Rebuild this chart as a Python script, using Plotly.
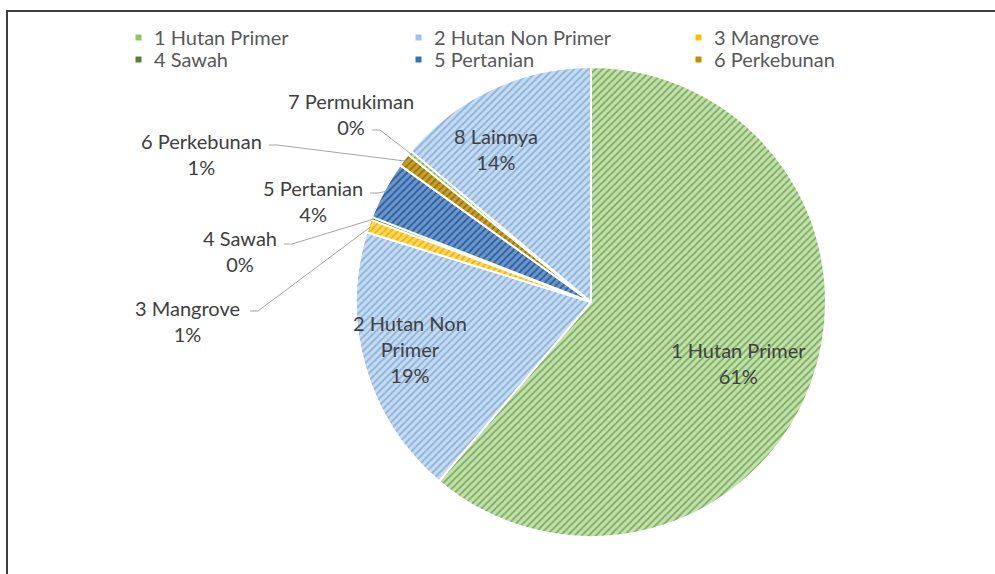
import math
import plotly.graph_objects as go

# Land-cover shares (percent)
categories = ["1 Hutan Primer", "2 Hutan Non Primer", "3 Mangrove", "4 Sawah",
              "5 Pertanian", "6 Perkebunan", "7 Permukiman", "8 Lainnya"]
shares = [61.2, 18.6, 0.9, 0.2, 4.0, 0.9, 0.3, 13.9]

# Legend lists only the first six classes
legend_items = categories[:6]

# Slice styling
bg_colors = ["#c5e0b4", "#c6dcf1", "#ffd966", "#6f9f4c", "#6a97cc", "#c9a227", "#b9da9e", "#c6dcf1"]
fg_colors = ["#7fb35a", "#8fb4de", "#f2b400", "#446f2b", "#2f5f9e", "#9a7410", "#7fb35a", "#8fb4de"]
legend_colors = ["#8cc66b", "#9dc3e6", "#ffc000", "#548235", "#2e75b6", "#bf9000"]

W, H = 995, 574
CX, CY, R = 591, 302, 235          # pie centre / radius in pixels

# Label placement (pixel centres of the two-line labels) and label-side leader anchors
inside_pos = {0: (738, 363), 1: (410, 349), 7: (496, 149)}
outside_pos = {2: (187, 321), 3: (240, 251), 4: (313, 201), 5: (201, 154), 6: (351, 114)}
leader_start = {2: (250, 311), 3: (284, 244), 4: (370, 193), 5: (269, 145), 6: (372, 130)}

# Legend grid: three columns, two rows
LEG_X0, LEG_DX = 138.5, 280
LEG_Y0, LEG_DY = 37.5, 22
LEG_TEXT_GAP = 13
LEG_SWATCH = 6

TEXT = "#404040"
LEG_TEXT = "#595959"
FONT = "Lato"
FSIZE = 20


def px(x):
    return x / W


def py(y):
    return 1 - y / H


def edge_point(frac, k=1.0):
    a = 2 * math.pi * frac
    return CX + k * R * math.sin(a), CY - k * R * math.cos(a)


total = sum(shares)
cum = []
acc = 0.0
for v in shares:
    cum.append((acc + v / 2) / total)
    acc += v

fig = go.Figure()

fig.add_trace(go.Pie(
    labels=categories,
    values=shares,
    sort=False,
    direction="clockwise",
    rotation=0,
    textinfo="none",
    hoverinfo="label+percent",
    showlegend=False,
    marker=dict(
        colors=bg_colors,
        line=dict(color="white", width=2),
        pattern=dict(shape="/", bgcolor=bg_colors, fgcolor=fg_colors,
                     size=5, solidity=0.4, fillmode="replace"),
    ),
    domain=dict(x=[px(CX - R), px(CX + R)], y=[py(CY + R), py(CY - R)]),
))


def pct(v):
    return f"{int(v / total * 100 + 0.5)}%"


annotations = []
shapes = []

for i, (x, y) in inside_pos.items():
    name = categories[i]
    if i == 1:
        name = "2 Hutan Non<br>Primer"
    annotations.append(dict(
        x=px(x), y=py(y), xref="paper", yref="paper", showarrow=False,
        xanchor="center", yanchor="middle",
        text=f"{name}<br>{pct(shares[i])}", align="center",
        font=dict(family=FONT, size=FSIZE, color=TEXT),
    ))

for i, (x, y) in outside_pos.items():
    annotations.append(dict(
        x=px(x), y=py(y), xref="paper", yref="paper", showarrow=False,
        xanchor="center", yanchor="middle",
        text=f"{categories[i]}<br>{pct(shares[i])}", align="center",
        font=dict(family=FONT, size=FSIZE, color=TEXT),
    ))
    sx, sy = leader_start[i]
    ex, ey = edge_point(cum[i], 0.99)
    path = f"M {px(sx)} {py(sy)} L {px(sx + 8)} {py(sy)} L {px(ex)} {py(ey)}"
    shapes.append(dict(type="path", xref="paper", yref="paper", path=path,
                       line=dict(color="#a6a6a6", width=1)))

# Legend: swatch + label per entry
for k, (name, col) in enumerate(zip(legend_items, legend_colors)):
    cx = LEG_X0 + (k % 3) * LEG_DX
    cy = LEG_Y0 + (k // 3) * LEG_DY
    h = LEG_SWATCH / 2
    shapes.append(dict(type="rect", xref="paper", yref="paper",
                       x0=px(cx - h), x1=px(cx + h), y0=py(cy + h), y1=py(cy - h),
                       fillcolor=col, line=dict(width=0)))
    annotations.append(dict(
        x=px(cx + LEG_TEXT_GAP), y=py(cy), xref="paper", yref="paper", showarrow=False,
        xanchor="left", yanchor="middle", text=name,
        font=dict(family=FONT, size=FSIZE, color=LEG_TEXT),
    ))

# Chart frame
shapes.append(dict(type="rect", xref="paper", yref="paper",
                   x0=px(7), y0=py(H + 20), x1=px(W + 20), y1=py(11),
                   line=dict(color="#3f3f3f", width=2), fillcolor="rgba(0,0,0,0)"))

fig.update_layout(
    width=W, height=H,
    margin=dict(l=0, r=0, t=0, b=0),
    paper_bgcolor="white", plot_bgcolor="white",
    font=dict(family=FONT, size=FSIZE, color=TEXT),
    showlegend=False,
    annotations=annotations,
    shapes=shapes,
)

fig.write_html("out.html")
